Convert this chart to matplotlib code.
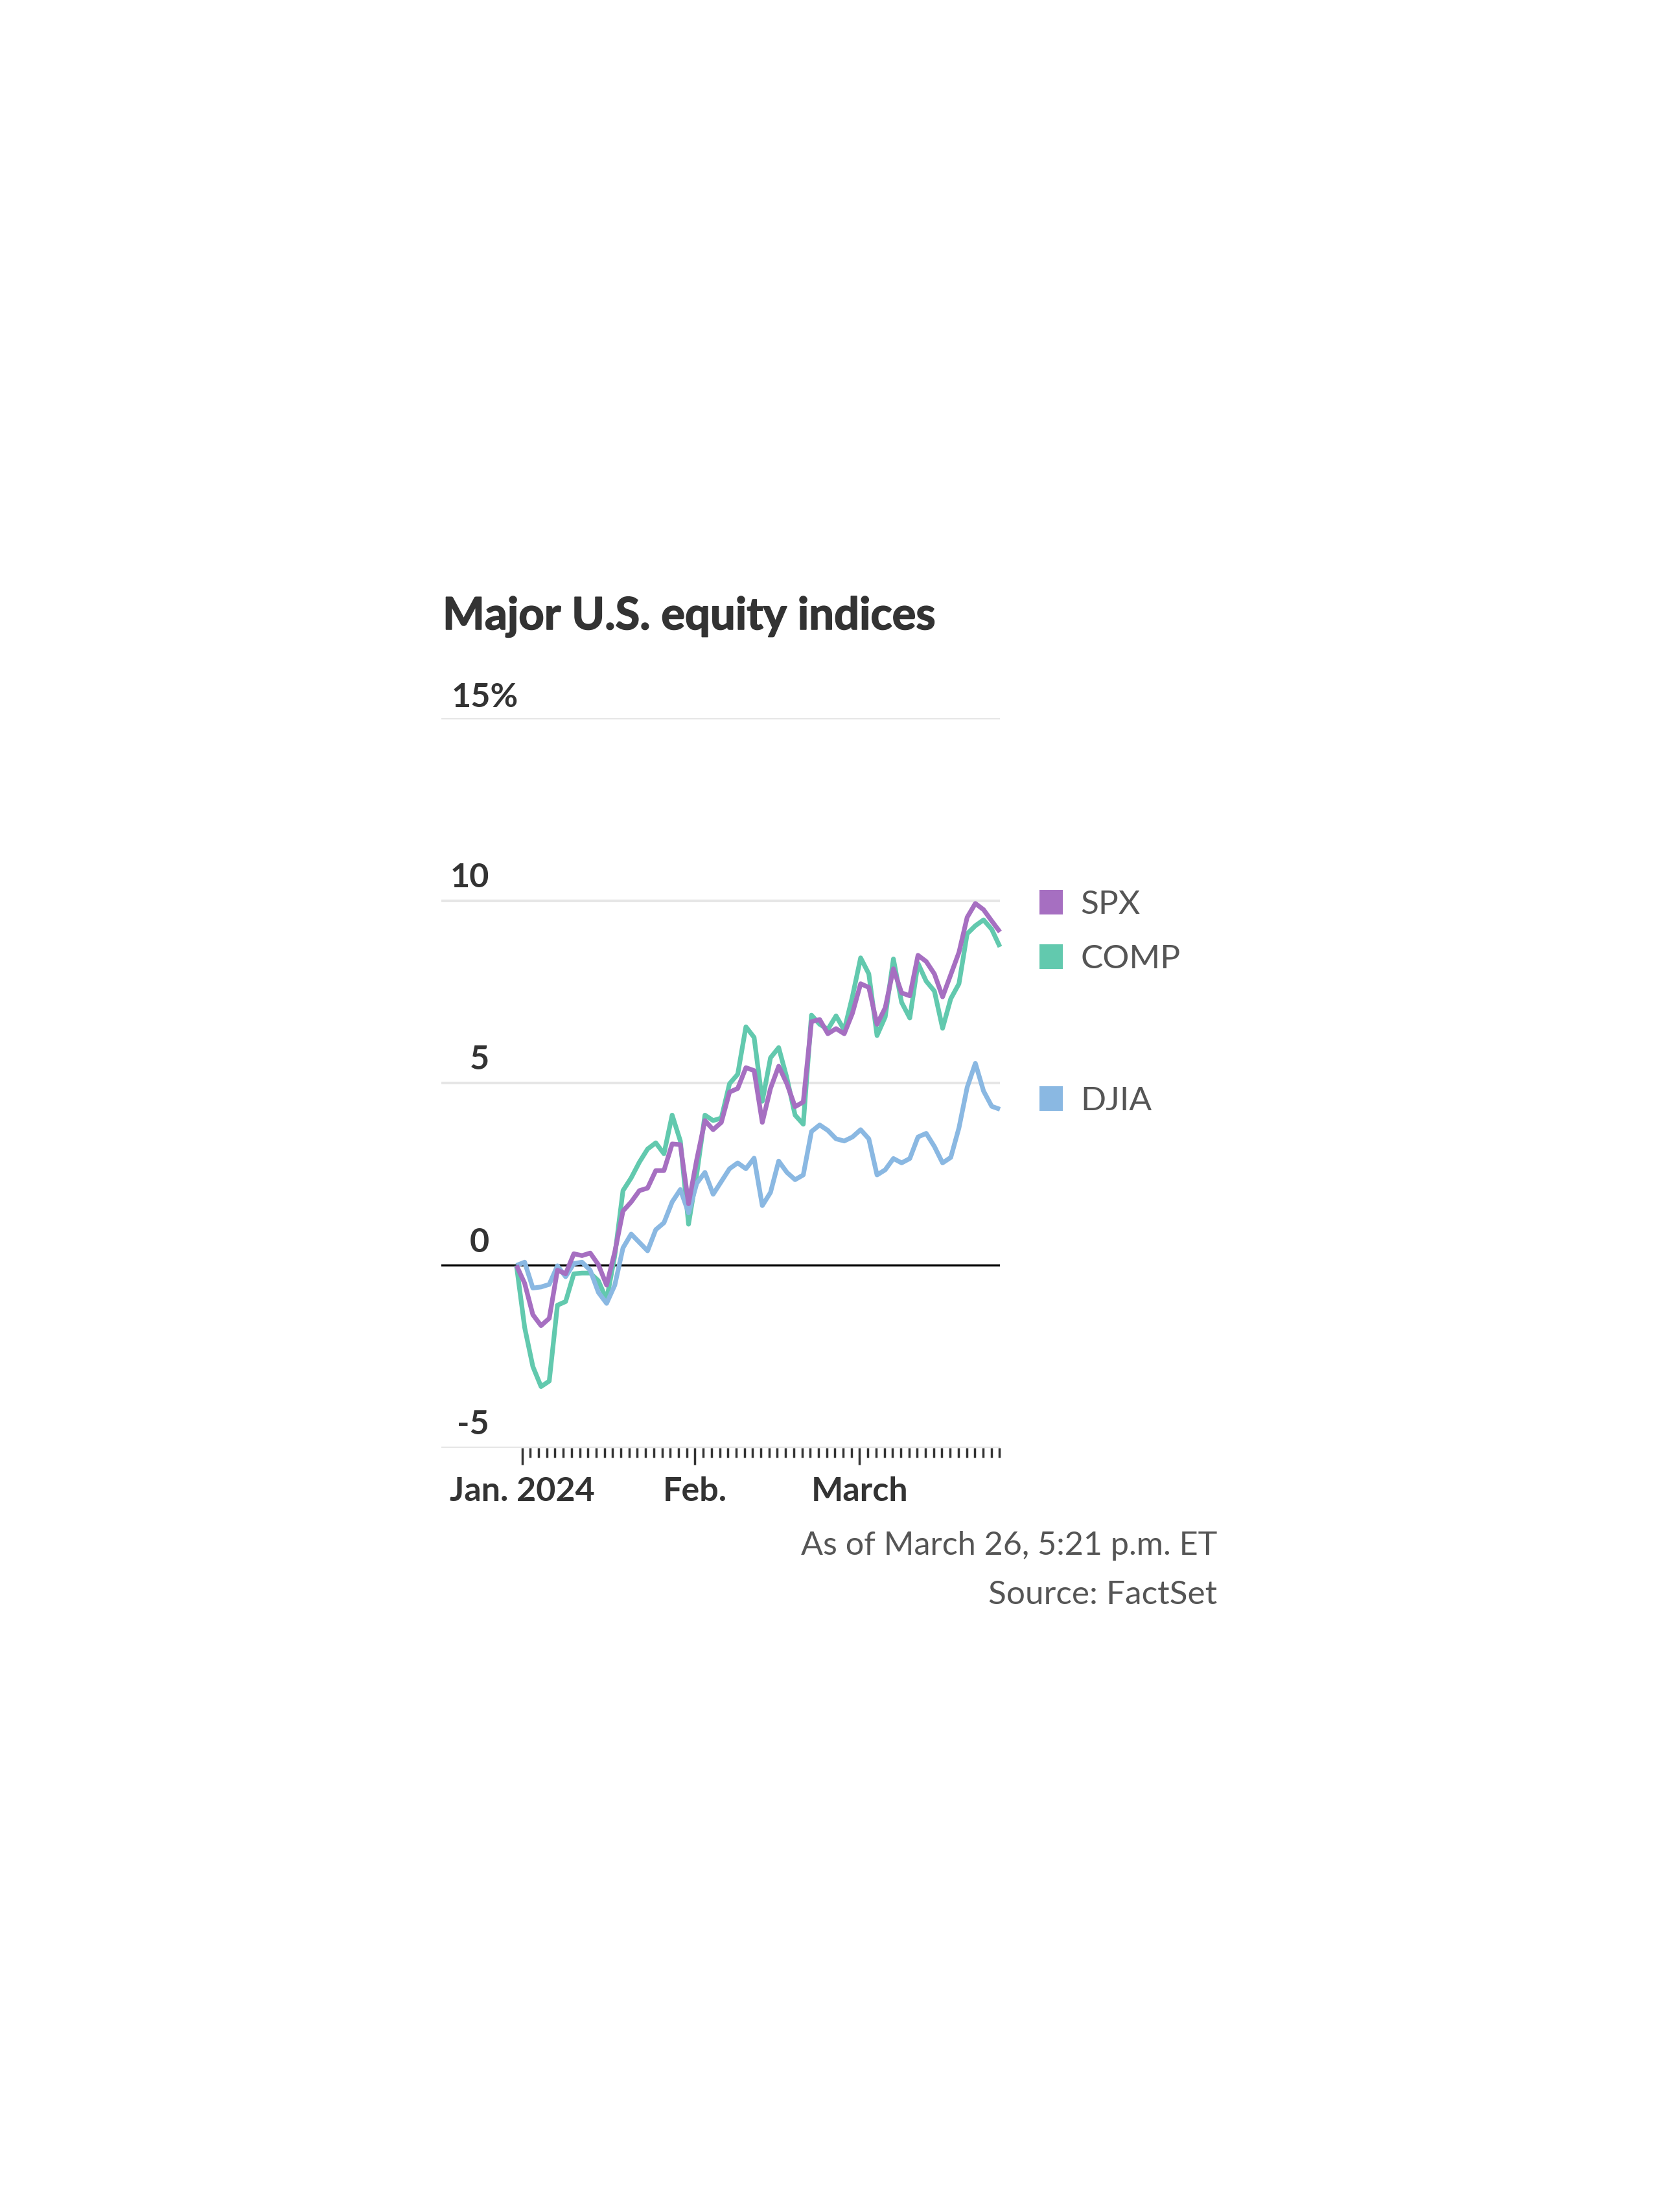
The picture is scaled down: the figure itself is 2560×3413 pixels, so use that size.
import numpy as np
import pandas as pd
import matplotlib
matplotlib.use("Agg")
import matplotlib.pyplot as plt
import matplotlib.patheffects as pe
from matplotlib.patches import Rectangle

# ---------------- data (cumulative % change since Dec. 29, 2023) ----------------
series_names = ["SPX", "COMP", "DJIA"]

spx = [0.00, -0.49, -1.35, -1.65, -1.45, -0.13, -0.23, 0.32, 0.27, 0.34,
       0.02, -0.54, 0.37, 1.49, 1.74, 2.05, 2.12, 2.60, 2.60, 3.33,
       3.31, 1.69, 2.90, 3.97, 3.72, 3.92, 4.75, 4.85, 5.42, 5.34,
       3.92, 4.85, 5.46, 4.98, 4.35, 4.48, 6.68, 6.74, 6.35, 6.49,
       6.35, 6.91, 7.72, 7.62, 6.61, 7.06, 8.13, 7.47, 7.39, 8.50,
       8.33, 7.99, 7.36, 7.97, 8.58, 9.54, 9.92, 9.75, 9.44, 9.14]

comp = [0.00, -1.70, -2.77, -3.32, -3.17, -1.09, -0.99, -0.23, -0.21, -0.21,
        -0.42, -0.94, 0.27, 2.05, 2.40, 2.83, 3.19, 3.36, 3.06, 4.12,
        3.41, 1.13, 2.50, 4.12, 3.97, 4.04, 4.98, 5.24, 6.54, 6.25,
        4.50, 5.69, 5.97, 5.14, 4.12, 3.87, 6.86, 6.61, 6.47, 6.84,
        6.45, 7.37, 8.43, 7.99, 6.30, 6.81, 8.40, 7.21, 6.78, 8.28,
        7.79, 7.52, 6.50, 7.31, 7.72, 9.09, 9.31, 9.47, 9.21, 8.73]

djia = [0.00, 0.09, -0.62, -0.59, -0.52, -0.01, -0.31, 0.05, 0.09, -0.13,
        -0.74, -1.04, -0.54, 0.48, 0.86, 0.63, 0.40, 0.98, 1.17, 1.74,
        2.08, 1.44, 2.25, 2.55, 1.95, 2.30, 2.65, 2.81, 2.65, 2.94,
        1.64, 2.00, 2.86, 2.55, 2.35, 2.48, 3.67, 3.85, 3.70, 3.47,
        3.41, 3.52, 3.72, 3.47, 2.48, 2.62, 2.93, 2.81, 2.93, 3.52,
        3.62, 3.26, 2.81, 2.96, 3.77, 4.88, 5.54, 4.78, 4.36, 4.28]

y_ticks = [15, 10, 5, 0, -5]
y_tick_labels = ["15%", "10", "5", "0", "-5"]

month_labels = {1: "Jan. 2024", 2: "Feb.", 3: "March"}
holidays = ["2024-01-15", "2024-02-19"]
trading_days = pd.bdate_range("2024-01-02", "2024-03-26")
trading_days = trading_days[~trading_days.isin(pd.to_datetime(holidays))]

title = "Major U.S. equity indices"
note1 = "As of March 26, 5:21 p.m. ET"
note2 = "Source: FactSet"

colors = {"SPX": "#a66fc1", "COMP": "#62c9ae", "DJIA": "#8ab8e2"}

# ---------------- figure ----------------
W, H, DPI = 2560, 3413, 100
fig = plt.figure(figsize=(W / DPI, H / DPI), dpi=DPI)
fig.patch.set_facecolor("white")

def fx(px):
    return px / W

def fy(py):
    return 1 - py / H

FONT = ["Lato", "DejaVu Sans"]
DARK = "#333333"
GRAY = "#555555"

ax_left, ax_right, ax_top, ax_bot = 681, 1543, 1108, 2234
ax = fig.add_axes([fx(ax_left), fy(ax_bot), fx(ax_right) - fx(ax_left), fy(ax_top) - fy(ax_bot)])
ax.set_facecolor("white")
for s in ax.spines.values():
    s.set_visible(False)

n = len(spx)
x = np.arange(n)
ax.set_xlim(-9.17, n - 1)
ax.set_ylim(-5, 15)

# gridlines
for v in y_ticks:
    if v == 0:
        continue
    ax.axhline(v, color="#e6e6e6", lw=2.9, zorder=1)
ax.axhline(0, color="black", lw=2.4, zorder=2)

# lines
data = {"SPX": spx, "COMP": comp, "DJIA": djia}
for name in ["COMP", "DJIA", "SPX"]:
    ax.plot(x, data[name], color=colors[name], lw=5.2, solid_joinstyle="round",
            solid_capstyle="butt", zorder=3, clip_on=False)

# x ticks: one per trading day
tick_pos = np.linspace(0.69, 58.95, len(trading_days))
major_idx = [i for i, d in enumerate(trading_days)
             if i == 0 or d.month != trading_days[i - 1].month]
minor_idx = [i for i in range(len(trading_days)) if i not in major_idx]
ax.set_xticks(tick_pos[major_idx])
ax.set_xticks(tick_pos[minor_idx], minor=True)
ax.set_xticklabels([])
ax.tick_params(axis="x", which="major", length=18.5, width=2.5, color=DARK, direction="out")
ax.tick_params(axis="x", which="minor", length=11.0, width=2.5, color=DARK, direction="out")
ax.set_yticks([])

for i in major_idx:
    ax.annotate(month_labels[trading_days[i].month], xy=(tick_pos[i], -5), xycoords="data",
                xytext=(0, -59), textcoords="offset points", ha="center", va="baseline",
                fontsize=37.5, fontweight="bold", color=DARK, family=FONT, annotation_clip=False)

# y labels
for v, lab in zip(y_ticks, y_tick_labels):
    if lab.endswith("%"):
        ax.annotate(lab, xy=(fx(697), v), xycoords=("figure fraction", "data"),
                    xytext=(0, 12.5), textcoords="offset points", ha="left", va="baseline",
                    fontsize=37.5, fontweight="bold", color=DARK, family=FONT, annotation_clip=False)
    else:
        ax.annotate(lab, xy=(fx(755), v), xycoords=("figure fraction", "data"),
                    xytext=(0, 15), textcoords="offset points", ha="right", va="baseline",
                    fontsize=37.5, fontweight="bold", color=DARK, family=FONT, annotation_clip=False)

# title (heavier weight emulated with a thin stroke)
fig.text(fx(683), fy(971), title, ha="left", va="baseline", fontsize=49.5,
         fontweight="bold", color=DARK, family=FONT,
         path_effects=[pe.withStroke(linewidth=1.2, foreground=DARK)])

# legend
legend_y = {"SPX": 1392, "COMP": 1476, "DJIA": 1695}
for name in series_names:
    cy = legend_y[name]
    fig.patches.append(Rectangle((fx(1604), fy(cy + 19)), fx(36), 38 / H,
                                 transform=fig.transFigure, color=colors[name], lw=0))
    fig.text(fx(1667), fy(cy + 18), name, ha="left", va="baseline", fontsize=37,
             color=GRAY, family=FONT)

# notes
fig.text(fx(1878), fy(2399), note1, ha="right", va="baseline", fontsize=36.2, color=GRAY, family=FONT)
fig.text(fx(1878), fy(2475), note2, ha="right", va="baseline", fontsize=37, color=GRAY, family=FONT)

fig.savefig("out.png", dpi=DPI, facecolor="white")
